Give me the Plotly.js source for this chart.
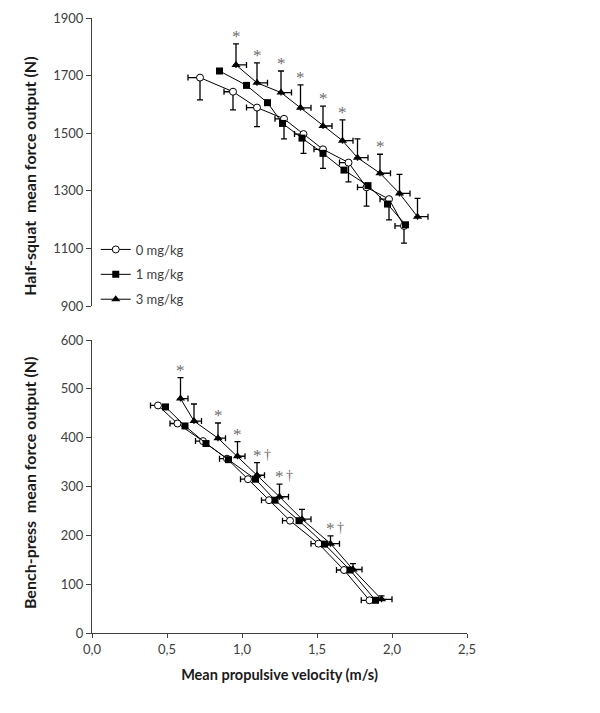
<!DOCTYPE html>
<html>
<head>
<meta charset="utf-8">
<script src="https://cdn.plot.ly/plotly-3.0.1.min.js"></script>
<style>html,body{margin:0;padding:0;background:#fff;}#chart{width:600px;height:713px;}</style>
</head>
<body>
<div id="chart"></div>
<script>
// ---- Data ----
var seriesNames = ['0 mg/kg', '1 mg/kg', '3 mg/kg'];

// Half-squat (top panel)
var squatV0 = [0.72, 0.94, 1.10, 1.28, 1.41, 1.54, 1.71, 1.83, 1.98, 2.08];
var squatF0 = [1693, 1644, 1589, 1550, 1497, 1444, 1398, 1312, 1271, 1178];
var squatErrF0 = [77, 63, 66, 70, 67, 66, 67, 65, 72, 60];
var squatErrV0 = [0.08, 0.06, 0.07, 0.06, 0.06, 0.06, 0.06, 0.06, 0.06, 0.06];

var squatV1 = [0.85, 1.03, 1.17, 1.27, 1.40, 1.54, 1.68, 1.84, 1.97, 2.09];
var squatF1 = [1716, 1666, 1606, 1534, 1483, 1430, 1372, 1318, 1254, 1182];

var squatV3 = [0.96, 1.10, 1.26, 1.39, 1.54, 1.67, 1.77, 1.92, 2.05, 2.17];
var squatF3 = [1737, 1675, 1641, 1588, 1525, 1474, 1415, 1361, 1291, 1210];
var squatErrF3 = [73, 69, 75, 80, 69, 72, 65, 66, 66, 64];
var squatErrV3 = [0.07, 0.07, 0.07, 0.07, 0.06, 0.07, 0.07, 0.07, 0.07, 0.07];
var squatStar = [1, 1, 1, 1, 1, 1, 0, 1, 0, 0];

// Bench-press (bottom panel)
var benchV0 = [0.44, 0.57, 0.74, 0.90, 1.04, 1.18, 1.32, 1.51, 1.68, 1.85];
var benchF0 = [466, 429, 393, 357, 315, 272, 230, 183, 129, 67];
var benchErrV0 = [0.05, 0.05, 0.05, 0.05, 0.05, 0.05, 0.05, 0.05, 0.05, 0.055];

var benchV1 = [0.49, 0.62, 0.76, 0.91, 1.09, 1.22, 1.38, 1.55, 1.72, 1.89];
var benchF1 = [463, 424, 388, 355, 315, 272, 230, 182, 129, 67];

var benchV3 = [0.59, 0.68, 0.84, 0.97, 1.10, 1.25, 1.40, 1.59, 1.74, 1.93];
var benchF3 = [480, 434, 399, 362, 323, 279, 233, 183, 130, 69];
var benchErrF3 = [43, 35, 31, 30, 26, 26, 20, 16, 12, 7];
var benchErrV3 = [0.05, 0.05, 0.05, 0.05, 0.05, 0.06, 0.06, 0.06, 0.06, 0.07];
var benchStar = [1, 0, 1, 1, 1, 1, 0, 1, 0, 0];
var benchDagger = [0, 0, 0, 0, 1, 1, 0, 1, 0, 0];

var xTicks = [0, 0.5, 1.0, 1.5, 2.0, 2.5];
var squatTicks = [900, 1100, 1300, 1500, 1700, 1900];
var benchTicks = [0, 100, 200, 300, 400, 500, 600];

var squatTitle = 'Half-squat  mean force output (N)';
var benchTitle = 'Bench-press  mean force output (N)';
var xTitle = 'Mean propulsive velocity (m/s)';

// ---- Helpers ----
function zeros(n) { var a = []; for (var i = 0; i < n; i++) a.push(0); return a; }
var BLACK = '#000000';
var errStyle = {color: BLACK, thickness: 1.3, width: 3};

function circleStyle() { return {symbol: 'circle', size: 7, color: '#ffffff', line: {color: BLACK, width: 1}}; }
function squareStyle() { return {symbol: 'square', size: 7, color: BLACK, line: {color: BLACK, width: 0}}; }
function triStyle() { return {symbol: 'triangle-up', size: 8, color: BLACK, line: {color: BLACK, width: 0}}; }

var traces = [
  // top
  {x: squatV0, y: squatF0, xaxis: 'x', yaxis: 'y2', mode: 'lines+markers', name: seriesNames[0],
   legendgroup: 'g0', line: {color: BLACK, width: 1}, marker: circleStyle(),
   error_y: Object.assign({type: 'data', symmetric: false, array: zeros(10), arrayminus: squatErrF0}, errStyle),
   error_x: Object.assign({type: 'data', symmetric: false, array: zeros(10), arrayminus: squatErrV0}, errStyle)},
  {x: squatV1, y: squatF1, xaxis: 'x', yaxis: 'y2', mode: 'lines+markers', name: seriesNames[1],
   legendgroup: 'g1', line: {color: BLACK, width: 1}, marker: squareStyle()},
  {x: squatV3, y: squatF3, xaxis: 'x', yaxis: 'y2', mode: 'lines+markers', name: seriesNames[2],
   legendgroup: 'g2', line: {color: BLACK, width: 1}, marker: triStyle(),
   error_y: Object.assign({type: 'data', symmetric: false, array: squatErrF3, arrayminus: zeros(10)}, errStyle),
   error_x: Object.assign({type: 'data', symmetric: false, array: squatErrV3, arrayminus: zeros(10)}, errStyle)},
  // bottom
  {x: benchV0, y: benchF0, xaxis: 'x', yaxis: 'y', mode: 'lines+markers', name: seriesNames[0],
   legendgroup: 'g0', showlegend: false, line: {color: BLACK, width: 1}, marker: circleStyle(),
   error_x: Object.assign({type: 'data', symmetric: false, array: zeros(10), arrayminus: benchErrV0}, errStyle)},
  {x: benchV1, y: benchF1, xaxis: 'x', yaxis: 'y', mode: 'lines+markers', name: seriesNames[1],
   legendgroup: 'g1', showlegend: false, line: {color: BLACK, width: 1}, marker: squareStyle()},
  {x: benchV3, y: benchF3, xaxis: 'x', yaxis: 'y', mode: 'lines+markers', name: seriesNames[2],
   legendgroup: 'g2', showlegend: false, line: {color: BLACK, width: 1}, marker: triStyle(),
   error_y: Object.assign({type: 'data', symmetric: false, array: benchErrF3, arrayminus: zeros(10)}, errStyle),
   error_x: Object.assign({type: 'data', symmetric: false, array: benchErrV3, arrayminus: zeros(10)}, errStyle)}
];

var starFont = {family: 'Liberation Serif, DejaVu Serif, serif', size: 17, color: '#6e6e6e'};
var titleFont = {family: 'Lato, Open Sans, sans-serif', size: 16, color: '#1a1a1a', weight: 'bold'};
var annotations = [
  {text: squatTitle, xref: 'paper', yref: 'paper', x: -0.165, y: 0.742, textangle: -90,
   showarrow: false, xanchor: 'center', yanchor: 'middle', font: titleFont},
  {text: benchTitle, xref: 'paper', yref: 'paper', x: -0.165, y: 0.244, textangle: -90,
   showarrow: false, xanchor: 'center', yanchor: 'middle', font: titleFont}
];
squatStar.forEach(function (s, i) {
  if (!s) return;
  annotations.push({x: squatV3[i], y: squatF3[i] + squatErrF3[i], xref: 'x', yref: 'y2',
    text: '*', showarrow: false, xanchor: 'center', yanchor: 'bottom', yshift: -4, font: starFont});
});
benchStar.forEach(function (s, i) {
  if (!s) return;
  annotations.push({x: benchV3[i], y: benchF3[i] + benchErrF3[i], xref: 'x', yref: 'y',
    text: '*', showarrow: false, xanchor: 'center', yanchor: 'bottom', yshift: -4, font: starFont});
  if (benchDagger[i]) {
    annotations.push({x: benchV3[i], y: benchF3[i] + benchErrF3[i], xref: 'x', yref: 'y',
      text: '†', showarrow: false, xanchor: 'center', yanchor: 'bottom', yshift: -1, xshift: 10,
      font: {family: 'Liberation Serif, DejaVu Serif, serif', size: 14, color: '#6e6e6e'}});
  }
});

var tickFont = {family: 'Lato, Open Sans, sans-serif', size: 13, color: '#404040'};

var layout = {
  width: 600, height: 713,
  margin: {l: 92, r: 133, t: 18, b: 80},
  paper_bgcolor: '#ffffff', plot_bgcolor: '#ffffff',
  separators: ', ',
  showlegend: true,
  legend: {x: 0.01, y: 0.648, xanchor: 'left', yanchor: 'top', bgcolor: 'rgba(0,0,0,0)',
    font: {family: 'Lato, Open Sans, sans-serif', size: 13, color: '#404040'},
    traceorder: 'grouped', tracegroupgap: 5, itemwidth: 30},
  xaxis: {
    range: [0, 2.5], tickvals: xTicks, tickformat: '.1f', showgrid: false, zeroline: false,
    showline: true, linecolor: '#404040', linewidth: 1, ticks: 'outside', ticklen: 4, tickcolor: '#404040',
    tickfont: tickFont, anchor: 'y',
    title: {text: xTitle, font: {family: 'Lato, Open Sans, sans-serif', size: 14.5, color: '#1a1a1a', weight: 'bold'}, standoff: 14}
  },
  yaxis: {
    domain: [0, 0.4764], range: [0, 600], tickvals: benchTicks, showgrid: false, zeroline: false,
    showline: true, linecolor: '#404040', linewidth: 1, ticks: 'outside', ticklen: 5, tickcolor: '#404040',
    tickfont: tickFont, anchor: 'x'
  },
  yaxis2: {
    domain: [0.5317, 1], range: [900, 1900], tickvals: squatTicks, showgrid: false, zeroline: false,
    showline: true, linecolor: '#404040', linewidth: 1, ticks: 'outside', ticklen: 5, tickcolor: '#404040',
    tickfont: tickFont, anchor: 'x'
  },
  annotations: annotations
};

Plotly.newPlot('chart', traces, layout, {displayModeBar: false, staticPlot: true});
</script>
</body>
</html>
